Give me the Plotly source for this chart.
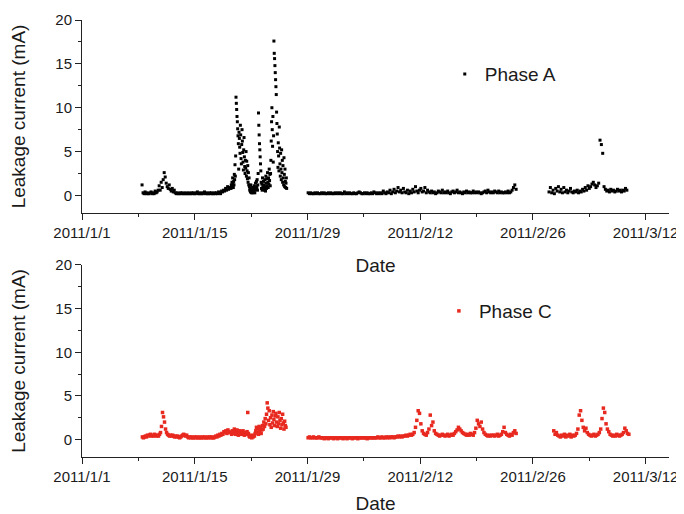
import pandas as pd
import plotly.graph_objects as go

# ---------------- data ----------------
# Phase A (top panel) — segments: start time, sampling step (hours), values (mA)
a1_start, a1_step = "2011-01-08 11:00", 3
a1_values = [1.2, 0.3, 0.2, 0.4, 0.2, 0.3, 0.2, 0.2, 0.3, 0.4, 0.2, 0.3, 0.2, 0.5, 0.3, 0.4, 0.6, 1.1, 0.6,
             1.5, 0.9, 1.8, 2.6, 2.1, 1.4, 1.0, 0.8, 1.2, 0.7, 0.5, 0.8, 0.4, 0.6,
             0.3, 0.2, 0.3, 0.2, 0.2, 0.3, 0.2, 0.3, 0.2, 0.2, 0.3, 0.2, 0.2, 0.3, 0.2, 0.2, 0.3, 0.2, 0.3, 0.2,
             0.2, 0.3, 0.4, 0.2, 0.2, 0.3, 0.2, 0.2, 0.3, 0.4, 0.2, 0.3, 0.2, 0.2, 0.3, 0.2, 0.3, 0.2, 0.2, 0.3,
             0.2, 0.3, 0.2, 0.4, 0.3, 0.2, 0.5, 0.4, 0.6, 0.5, 0.8, 0.6, 1.0, 0.7, 0.9]

a2_start, a2_step = "2011-01-19 12:00", 1
a2_values = [0.8, 1.2, 0.9, 1.5, 1.1, 2.0, 1.4, 0.9, 1.6, 1.2, 2.4, 1.8, 3.5, 2.2,
             4.5, 11.2, 10.5, 9.8, 9.0, 8.4, 7.6, 6.8, 5.9, 3.0, 7.2, 6.5, 5.5, 4.8, 8.0, 6.9, 4.2, 3.6, 5.8, 7.5,
             6.2, 4.9, 3.8, 2.9, 5.2, 6.6, 4.4, 3.3, 2.5, 4.0, 3.1, 5.0, 2.2, 3.9, 2.8, 1.9, 3.4, 1.5, 2.6, 1.2, 2.0,
             1.0, 0.6, 0.8, 0.4, 1.2, 0.5, 0.3, 0.7, 0.4, 0.9, 0.3, 0.5, 0.8, 0.4, 1.1, 0.6, 0.3, 0.8, 1.4, 0.7,
             1.0, 1.6,
             0.9, 1.8, 0.6, 1.2, 2.5, 9.4, 8.0, 6.9, 5.9, 5.2, 4.4, 3.6, 2.8, 1.5, 0.8, 1.3, 0.6, 2.0, 1.0, 0.7,
             1.6, 0.9,
             1.2, 0.6, 1.8, 1.0, 0.5, 2.2, 1.4, 0.8, 1.9, 1.1, 2.6, 1.5, 0.9, 2.0, 1.3, 3.0, 1.7, 2.4, 1.1,
             2.5, 4.0, 6.2, 8.4, 10.0, 7.5, 5.6, 9.0, 3.8, 6.8, 17.6, 16.2, 15.6, 14.8, 14.0, 13.2, 12.4, 11.5,
             9.5, 8.2, 7.0, 5.0, 3.2, 6.0, 4.5, 2.8, 7.8, 5.4, 3.6, 2.2, 4.8, 3.0, 1.8, 5.2, 2.6, 4.0, 1.5, 3.4,
             2.0, 1.2, 4.3, 2.4, 1.0, 3.0, 1.6, 0.9,
             1.4, 2.0, 0.8]

a3_start, a3_step = "2011-01-29 02:00", 4
a3_values = [0.3, 0.2, 0.3, 0.2, 0.2, 0.3, 0.2, 0.3, 0.2, 0.2, 0.3, 0.2, 0.3, 0.2, 0.2, 0.3, 0.2, 0.3,
             0.2, 0.2, 0.3, 0.2, 0.3, 0.2, 0.3, 0.2, 0.2, 0.4, 0.2, 0.3, 0.2, 0.3, 0.2, 0.2, 0.3, 0.2,
             0.2, 0.3, 0.4, 0.3, 0.2, 0.2, 0.3, 0.2, 0.3, 0.2, 0.2, 0.3, 0.2, 0.4, 0.3, 0.2, 0.3, 0.2,
             0.3, 0.2, 0.5, 0.3, 0.2, 0.4, 0.3, 0.6, 0.2, 0.4, 0.7, 0.3, 0.5, 0.9, 0.4, 0.6, 0.3, 0.8,
             0.4, 0.3, 0.6, 0.2, 0.5, 0.3, 0.7, 0.4, 1.0, 0.5, 0.3, 0.6, 0.8, 0.4, 0.5, 0.9, 0.3, 0.6,
             0.4, 0.3, 0.5, 0.3, 0.4, 0.2, 0.3, 0.5, 0.4, 0.3, 0.6, 0.3, 0.4, 0.3, 0.5, 0.3, 0.2, 0.4,
             0.5, 0.3, 0.4, 0.6, 0.3, 0.4, 0.3, 0.2, 0.4, 0.3, 0.5, 0.3, 0.4, 0.3, 0.3, 0.5, 0.3, 0.4,
             0.3, 0.4, 0.3, 0.2, 0.3, 0.4, 0.5, 0.3, 0.6, 0.4, 0.3, 0.4, 0.3, 0.5, 0.4, 0.3, 0.5, 0.3,
             0.4, 0.3, 0.3, 0.4, 0.3, 0.5, 0.3, 0.4, 0.6, 0.9, 1.2, 0.7]

a4_start, a4_step = "2011-02-28 00:00", 4
a4_values = [0.4, 0.9, 0.3, 0.6, 0.2, 0.8, 0.5, 1.0, 0.4, 0.7, 0.3, 0.9, 0.4, 0.6, 0.3, 0.5, 0.8, 0.4,
             0.3, 0.5, 0.4, 0.6, 0.3, 0.5, 0.4, 0.7, 0.5, 0.9, 0.6, 1.1, 0.8, 1.0, 1.3, 1.5, 1.2, 0.9,
             1.1, 1.4, 6.3, 5.8, 4.8, 1.0, 0.7, 0.5, 0.6, 0.4, 0.7, 0.5, 0.6, 0.4, 0.5, 0.7, 0.5, 0.6,
             0.4, 0.6, 0.5, 0.8, 0.6]

# Phase C (bottom panel)
c1_start, c1_step = "2011-01-08 12:00", 3
c1_values = [0.3, 0.2, 0.3, 0.4, 0.3, 0.5, 0.4, 0.5, 0.6, 0.4, 0.5, 0.4, 0.6, 0.5, 0.4, 0.5, 0.4, 0.6,
             0.8, 1.5, 3.1, 2.6, 2.0, 1.2, 0.8, 0.6, 0.5, 0.4,
             0.5, 0.4, 0.5, 0.4, 0.3, 0.4, 0.3, 0.4, 0.3, 0.2, 0.3, 0.4, 0.5, 0.6, 0.5, 0.4, 0.5, 0.3, 0.2, 0.3,
             0.2, 0.3, 0.2, 0.2, 0.3, 0.2, 0.3, 0.2, 0.2, 0.3, 0.2, 0.2, 0.3, 0.2, 0.3, 0.2, 0.2, 0.3, 0.2, 0.3,
             0.2, 0.3, 0.2, 0.2, 0.3, 0.4, 0.3, 0.5, 0.4, 0.6, 0.5, 0.7, 0.6, 0.9, 0.8, 1.0, 0.7, 1.1, 0.9, 0.8]

c2_start, c2_step = "2011-01-19 12:00", 2
c2_values = [0.8, 0.6, 1.0, 0.7, 0.9, 1.2, 0.8, 0.6, 0.9, 1.1, 0.7, 0.5, 0.8, 1.0, 0.7, 0.9, 0.6, 0.8,
             1.0, 0.7, 0.5, 0.6, 0.8, 0.6,
             0.9, 3.1, 0.7, 0.4, 0.3, 0.5, 0.3, 0.2, 0.4, 0.3, 0.5, 0.4,
             0.7, 1.0, 1.4, 0.8, 1.2, 0.6, 1.5, 0.9, 1.3, 0.7, 1.1, 1.6,
             1.2, 2.0, 1.5, 2.4, 1.8, 2.9, 4.2, 3.6, 2.2, 3.3, 1.7, 2.5,
             1.4, 2.8, 1.9, 3.2, 2.3, 1.6, 2.7, 3.0, 2.0, 1.5, 2.6, 1.8, 3.1, 2.2, 1.3, 2.4, 1.7, 2.9,
             1.9, 1.2, 2.1, 1.6, 1.4]

c3_start, c3_step = "2011-01-29 02:00", 4
c3_values = [0.2, 0.3, 0.2, 0.2, 0.3, 0.2, 0.2, 0.2, 0.3, 0.2, 0.2, 0.2, 0.1, 0.2, 0.2, 0.1, 0.2, 0.2,
             0.2, 0.1, 0.2, 0.2, 0.1, 0.2, 0.2, 0.2, 0.1, 0.2, 0.2, 0.1, 0.2, 0.2, 0.2, 0.1, 0.2, 0.2,
             0.2, 0.1, 0.2, 0.2, 0.2, 0.2, 0.2, 0.2, 0.1, 0.2, 0.2, 0.2, 0.2, 0.2, 0.2, 0.2, 0.3, 0.2,
             0.2, 0.3, 0.2, 0.2, 0.3, 0.2, 0.3, 0.2, 0.3, 0.3, 0.2, 0.3, 0.3, 0.4, 0.3, 0.4, 0.3, 0.4,
             0.4, 0.5, 0.4, 0.5, 0.6, 0.5, 0.6, 0.8, 1.4, 2.2, 3.3, 3.0, 1.8, 1.0, 0.7, 0.6, 0.5, 0.8,
             1.2, 2.8, 1.6, 2.0, 1.0, 0.7, 0.6, 0.5, 0.4, 0.5, 0.6, 0.5, 0.4, 0.5, 0.6, 0.4, 0.5, 0.6,
             0.5, 0.7, 0.9, 1.1, 1.4, 1.2, 1.0, 0.8, 0.7, 0.6, 0.5, 0.6, 0.5, 0.7, 0.6, 0.5, 0.8, 1.3,
             2.2, 1.8, 1.5, 2.0, 1.2, 0.8, 0.6, 0.5, 0.4, 0.5, 0.4, 0.5, 0.5, 0.4, 0.5, 0.6, 0.4, 0.5,
             0.6, 0.9, 1.4, 0.8, 0.6, 0.5, 0.4, 0.6, 0.5, 0.8, 1.0, 0.7]

c4_start, c4_step = "2011-02-28 14:00", 4
c4_values = [1.0, 0.6, 0.8, 0.5, 0.4, 0.3, 0.5, 0.4, 0.6, 0.3, 0.5, 0.4, 0.6, 0.3, 0.5, 0.4,
             0.5, 0.7, 1.2, 2.8, 3.3, 2.2, 1.4, 1.0, 1.3, 0.8, 0.6, 0.5, 0.4, 0.5, 0.6, 0.4, 0.5, 0.6,
             0.8, 1.2, 2.4, 3.6, 3.1, 1.8, 1.2, 0.9, 0.6, 0.5, 0.4, 0.5, 0.4, 0.6, 0.5, 0.4, 0.5, 0.6,
             0.8, 1.3, 1.0, 0.7, 0.6]

x_tick_start = "2011-01-01"
x_range = ["2011-01-01", "2011-03-14 21:36"]
y_range = [-2, 20]

series_a_name = "Phase A"
series_c_name = "Phase C"
x_title = "Date"
y_title = "Leakage current (mA)"


def build(segments):
    xs, ys = [], []
    for start, step, vals in segments:
        t = pd.date_range(start, periods=len(vals), freq=f"{step}h")
        xs.extend(t)
        ys.extend(vals)
    return xs, ys


xa, ya = build([(a1_start, a1_step, a1_values), (a2_start, a2_step, a2_values),
                (a3_start, a3_step, a3_values), (a4_start, a4_step, a4_values)])
xc, yc = build([(c1_start, c1_step, c1_values), (c2_start, c2_step, c2_values),
                (c3_start, c3_step, c3_values), (c4_start, c4_step, c4_values)])

FONT = "Liberation Sans, Arial, sans-serif"
TXT = "#1a1a1a"
RED = "#e8291f"

fig = go.Figure()
fig.add_trace(go.Scatter(x=xa, y=ya, mode="markers", name=series_a_name,
                         marker=dict(symbol="square", size=3, color="#000000", line=dict(width=0)),
                         xaxis="x", yaxis="y", legend="legend"))
fig.add_trace(go.Scatter(x=xc, y=yc, mode="markers", name=series_c_name,
                         marker=dict(symbol="square", size=3.5, color=RED, line=dict(width=0)),
                         xaxis="x2", yaxis="y2", legend="legend2"))

day_ms = 86400000
xcommon = dict(type="date", range=x_range, tick0=x_tick_start, dtick=14 * day_ms,
               tickformat="%Y/%-m/%-d", ticks="outside", ticklen=6, tickwidth=1, tickcolor="#222",
               minor=dict(dtick=7 * day_ms, tick0=x_tick_start, ticks="outside", ticklen=3, tickcolor="#222"),
               showline=True, linecolor="#222", linewidth=1, showgrid=False, zeroline=False,
               automargin=False,
               tickfont=dict(family=FONT, size=15, color=TXT),
               title=dict(text=x_title, font=dict(family=FONT, size=19, color=TXT), standoff=18))
ycommon = dict(range=y_range, tick0=0, dtick=5, ticks="outside", ticklen=6, tickwidth=1, tickcolor="#222",
               minor=dict(dtick=2.5, tick0=0, ticks="outside", ticklen=3, tickcolor="#222"),
               showline=True, linecolor="#222", linewidth=1, showgrid=False, zeroline=False,
               automargin=False,
               tickfont=dict(family=FONT, size=15, color=TXT),
               title=dict(text=y_title, font=dict(family=FONT, size=19, color=TXT), standoff=29))

# the page has an 8px body margin, so the figure is drawn 8px smaller and offset
fig.update_layout(
    width=676, height=506,
    margin=dict(l=74, r=15, t=12, b=57, autoexpand=False),
    paper_bgcolor="white", plot_bgcolor="white",
    xaxis=dict(**xcommon, anchor="y", domain=[0, 1]),
    yaxis=dict(**ycommon, anchor="x", domain=[0.5584, 1.0]),
    xaxis2=dict(**xcommon, anchor="y2", domain=[0, 1]),
    yaxis2=dict(**ycommon, anchor="x2", domain=[0.0, 0.4394]),
    legend=dict(x=0.618, y=0.876, xanchor="left", yanchor="middle", bgcolor="rgba(0,0,0,0)",
                font=dict(family=FONT, size=19, color=TXT)),
    legend2=dict(x=0.608, y=0.334, xanchor="left", yanchor="middle", bgcolor="rgba(0,0,0,0)",
                 font=dict(family=FONT, size=19, color=TXT)),
    showlegend=True,
)

fig.write_html("out.html")
